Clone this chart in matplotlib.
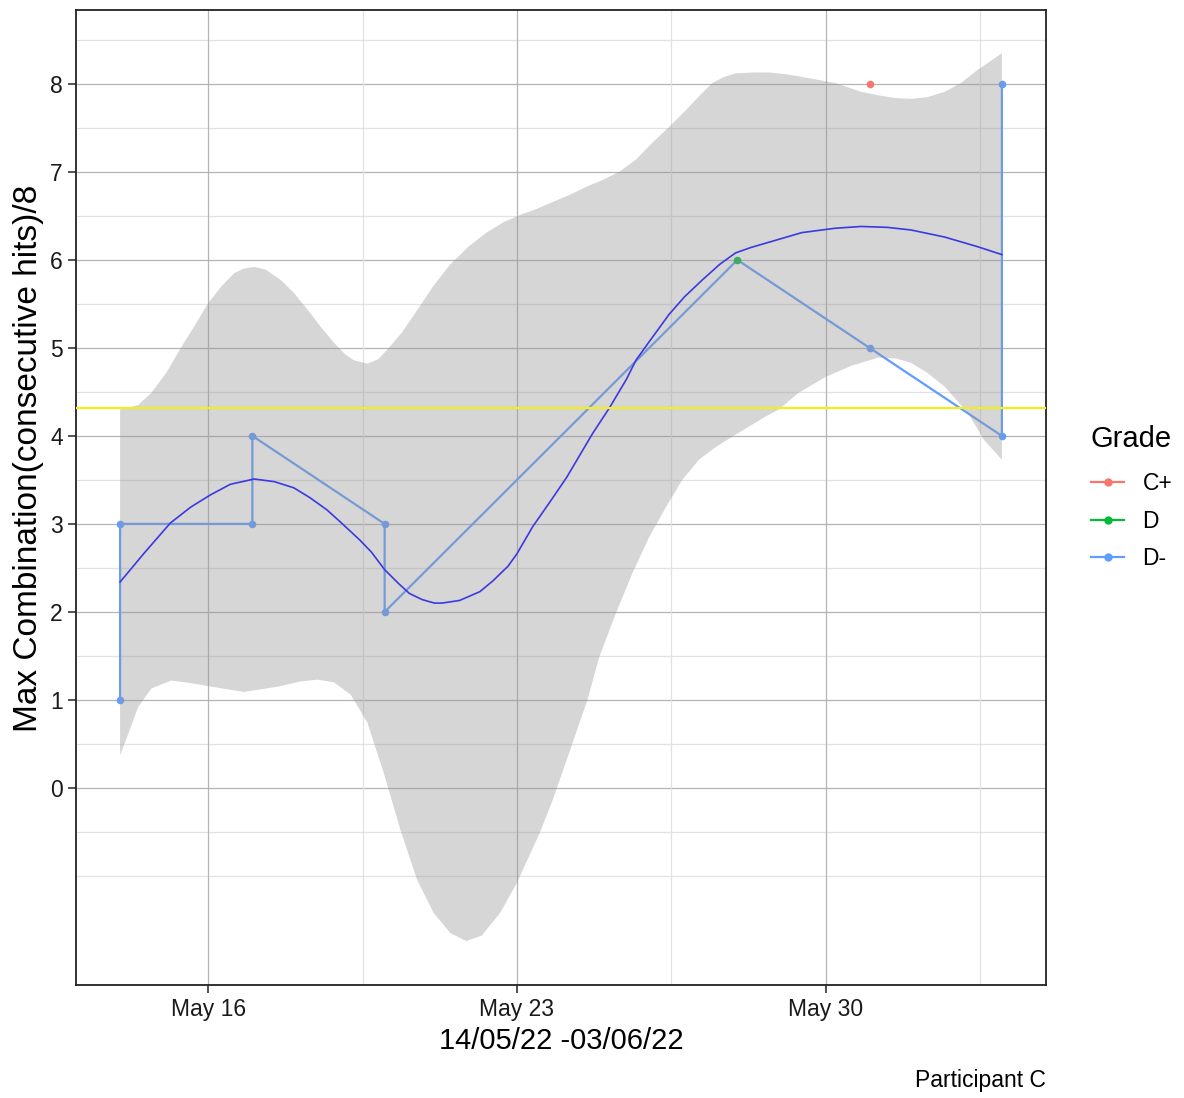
import numpy as np
import matplotlib
matplotlib.use('Agg')
import matplotlib.pyplot as plt
import matplotlib.dates as mdates
from matplotlib.lines import Line2D

plt.rcParams['font.family'] = ['Liberation Sans', 'DejaVu Sans']

# observations (day of May, June 3 = 34)
obs_day = [14, 14, 17, 17, 20, 20, 28, 31, 31, 34, 34]
obs_val = [1, 3, 3, 4, 3, 2, 6, 8, 5, 4, 8]
obs_grade = ['D-', 'D-', 'D-', 'D-', 'D-', 'D-', 'D', 'C+', 'D-', 'D-', 'D-']

# order the connecting line follows (C+ point not part of it)
path_day = [14, 14, 17, 17, 20, 20, 28, 31, 34, 34]
path_val = [1, 3, 3, 4, 3, 2, 6, 5, 4, 8]

# smoother curve
fit_day = [14.0, 14.55, 15.14, 15.6, 16.05, 16.5, 17.04, 17.5, 17.94, 18.3,
           18.69, 19.0, 19.43, 19.7, 20.0, 20.3, 20.56, 20.85, 21.13, 21.3,
           21.7, 22.16, 22.45, 22.8, 23.0, 23.36, 23.75, 24.13, 24.72, 25.1,
           25.48, 25.7, 26.0, 26.45, 26.8, 27.2, 27.6, 27.96, 28.3, 28.71,
           29.46, 30.22, 30.81, 31.4, 31.94, 32.7, 33.45, 34.0]
fit_val = [2.34, 2.67, 3.01, 3.19, 3.33, 3.45, 3.51, 3.48, 3.41, 3.30,
           3.16, 3.02, 2.82, 2.68, 2.48, 2.33, 2.21, 2.14, 2.10, 2.10,
           2.13, 2.23, 2.35, 2.52, 2.66, 2.97, 3.25, 3.53, 4.03, 4.32,
           4.64, 4.86, 5.07, 5.38, 5.58, 5.77, 5.95, 6.08, 6.14, 6.20,
           6.31, 6.36, 6.38, 6.37, 6.34, 6.26, 6.15, 6.06]

# confidence band edges
hi_day = [14.0, 14.41, 14.71, 15.05, 15.39, 15.7, 16.0, 16.3, 16.59, 16.8,
          17.04, 17.3, 17.65, 17.95, 18.26, 18.55, 18.85, 19.1, 19.3, 19.61,
          19.85, 20.06, 20.4, 20.74, 21.1, 21.49, 21.9, 22.31, 22.7, 23.07,
          23.45, 23.82, 24.2, 24.57, 24.95, 25.32, 25.7, 26.07, 26.45, 26.83,
          27.15, 27.43, 27.7, 27.96, 28.35, 28.71, 29.1, 29.46, 30.22, 30.81,
          31.2, 31.57, 31.94, 32.32, 32.7, 33.07, 33.45, 33.75, 34.0]
hi_val = [4.30, 4.35, 4.49, 4.72, 5.01, 5.26, 5.51, 5.70, 5.85, 5.90,
          5.92, 5.89, 5.77, 5.62, 5.43, 5.24, 5.06, 4.93, 4.86, 4.82,
          4.87, 4.98, 5.18, 5.43, 5.70, 5.95, 6.15, 6.31, 6.43, 6.51,
          6.58, 6.66, 6.74, 6.83, 6.91, 7.00, 7.14, 7.33, 7.51, 7.70,
          7.87, 8.01, 8.08, 8.12, 8.13, 8.13, 8.11, 8.08, 8.01, 7.91,
          7.87, 7.84, 7.83, 7.85, 7.91, 8.01, 8.16, 8.26, 8.35]

lo_day = [14.0, 14.19, 14.41, 14.71, 15.16, 15.62, 16.07, 16.81, 17.57, 18.1,
          18.48, 18.85, 19.23, 19.61, 19.98, 20.36, 20.74, 21.11, 21.49, 21.85,
          22.2, 22.62, 23.0, 23.52, 23.81, 24.2, 24.6, 24.87, 25.25, 25.62,
          26.0, 26.38, 26.75, 27.13, 27.5, 27.88, 28.64, 28.94, 29.39, 30.0,
          30.6, 31.2, 31.6, 31.94, 32.3, 32.7, 33.23, 33.6, 34.0]
lo_val = [0.37, 0.62, 0.92, 1.13, 1.22, 1.19, 1.15, 1.09, 1.15, 1.21,
          1.23, 1.20, 1.06, 0.74, 0.17, -0.48, -1.05, -1.42, -1.65, -1.74,
          -1.68, -1.42, -1.08, -0.51, -0.14, 0.42, 1.00, 1.49, 1.99, 2.44,
          2.85, 3.19, 3.50, 3.73, 3.87, 3.99, 4.22, 4.30, 4.49, 4.67,
          4.80, 4.89, 4.88, 4.83, 4.72, 4.56, 4.26, 3.95, 3.73]

ref_level = 4.32

grades = ['C+', 'D', 'D-']
grade_colors = {'C+': '#F8766D', 'D': '#00BA38', 'D-': '#619CFF'}

base = mdates.date2num(np.datetime64('2022-05-01'))


def to_x(days):
    return base + np.asarray(days, dtype=float) - 1


fig = plt.figure(figsize=(11.84, 10.98), dpi=100)
ax = fig.add_axes([76 / 1184, 1 - 985 / 1098, 970 / 1184, 975 / 1098])

# grid (drawn by hand to mimic the ggplot one)
for v in np.arange(0, 9):
    ax.axhline(v, color='#b4b4b4', lw=0.9, zorder=0)
for v in [-1, -0.5] + list(np.arange(0.5, 9, 1)):
    ax.axhline(v, color='#e2e2e2', lw=0.9, zorder=0)
for d in [16, 23, 30]:
    ax.axvline(to_x(d), color='#b4b4b4', lw=0.9, zorder=0)
for d in [19.5, 26.5, 33.5]:
    ax.axvline(to_x(d), color='#e2e2e2', lw=0.9, zorder=0)

ax.plot(to_x(path_day), path_val, color=grade_colors['D-'], lw=1.6, zorder=2)
for g in grades:
    dd = [d for d, gg in zip(obs_day, obs_grade) if gg == g]
    vv = [v for v, gg in zip(obs_val, obs_grade) if gg == g]
    ax.scatter(to_x(dd), vv, s=30, color=grade_colors[g], zorder=3, linewidths=0)

band_x = np.concatenate([to_x(hi_day), to_x(lo_day)[::-1]])
band_y = np.concatenate([hi_val, lo_val[::-1]])
ax.fill(band_x, band_y, color='#999999', alpha=0.4, lw=0, zorder=4)
ax.plot(to_x(fit_day), fit_val, color='#3a3ae0', lw=1.2, zorder=5)
ax.axhline(ref_level, color='#f0f020', lw=1.6, zorder=6)

ax.set_xlim(to_x(13), to_x(35))
ax.set_ylim(-2.24, 8.84)
ax.set_yticks(range(0, 9))
ax.set_xticks(to_x([16, 23, 30]))
ax.set_xticklabels(['May 16', 'May 23', 'May 30'])
ax.tick_params(labelsize=16.5, length=6, width=1.2, color='#333333',
               labelcolor='#1a1a1a')
for s in ax.spines.values():
    s.set_linewidth(1.3)
    s.set_color('#222222')

ax.set_xlabel('14/05/22 -03/06/22', fontsize=21, labelpad=4)
ax.set_ylabel('Max Combination(consecutive hits)/8', fontsize=24)
ax.yaxis.set_label_coords(-0.033, 0.54)

fig.text(1046 / 1184, 1 - 1081 / 1098, 'Participant C', ha='right',
         va='center', fontsize=16.5)

handles = [Line2D([], [], color=grade_colors[g], marker='o', ms=5, lw=1.6)
           for g in grades]
leg = fig.legend(handles, grades, title='Grade', loc='upper left',
                 bbox_to_anchor=(1091 / 1184, 1 - 425 / 1098), frameon=False,
                 fontsize=16.5, title_fontsize=21, handlelength=1.45,
                 labelspacing=0.62, handletextpad=0.8, borderpad=0,
                 borderaxespad=0)
leg._legend_box.align = 'left'
leg._legend_box.sep = 14

fig.savefig('out.png', dpi=100)
